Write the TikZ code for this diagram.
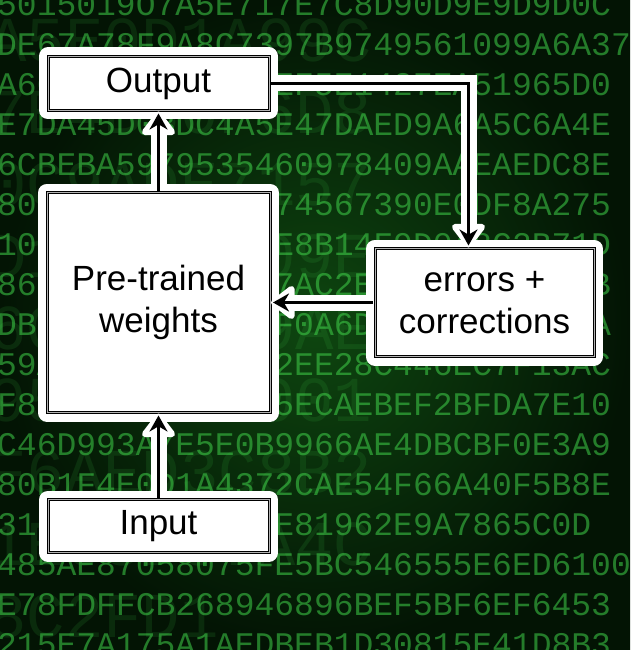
\documentclass[tikz,border=0pt]{standalone}
\usepackage{fontspec}
\newfontfamily\labelfont{Liberation Sans}
\newfontfamily\hexfont{Liberation Mono}
\usetikzlibrary{arrows.meta, positioning, calc}
\definecolor{matrixdark}{RGB}{3,20,4}
\definecolor{matrixmid}{RGB}{14,70,16}
\definecolor{matrixgreen}{RGB}{64,210,74}
\tikzset{
  block/.style={rectangle, draw=black, line width=1.1pt, double=gray!60, double distance=0.8pt,
    fill=white, align=center, outer sep=0pt, font=\labelfont\fontsize{35}{42}\selectfont,
    preaction={draw=white, line width=18pt, line join=round}},
  flow/.style={line width=3pt, shorten <=2pt, shorten >=3pt, -{Stealth[length=16pt, width=18pt]},
    preaction={draw=white, line width=16pt, shorten <=2pt, shorten >=1pt,
      -{Triangle[length=26pt, width=38pt, round]}}},
  hexrow/.style={anchor=west, inner sep=0pt, text=matrixgreen, text opacity=0.55,
    font=\hexfont\fontsize{33}{33}\selectfont},
  bighex/.style={anchor=west, inner sep=0pt, text=matrixgreen, text opacity=0.12,
    font=\hexfont\fontsize{64}{64}\selectfont},
}

\begin{document}
\begin{tikzpicture}[x=1pt, y=-1pt]
    \useasboundingbox (0,0) rectangle (630,650);
    \fill[inner color=matrixmid, outer color=matrixdark] (0,0) rectangle (630,650);
    \begin{scope}
    \clip (0,0) rectangle (630,650);
    % falling code in the background
    \foreach \row [count=\i from 0] in {A5E0D1A99C,7E4B30F6D8,0C9ADE7157,
        D1B5A8F09E,6C5E0019AE,95A785E001,F6AED3C8B2,1E05D97A4C,8C2FD1}
        \node[bighex] (big\i) at (-12, 40+\i*72) {\row};
    \foreach \row [count=\i from 0] in {
        5015019O7A5E717E7C8D90D9E9D9D0C,
        DE67A78F9A8C7397B9749561099A6A37,
        A60C7B21D9ED6AEF5E1427EA51965D0,
        E7DA45D0BDC4A5E47DAED9A6A5C6A4E,
        6CBEBA5979535460978409AAEAEDC8E,
        809E3DA7FADC8974567390E0DF8A275,
        10F57E3A1123D9E8B14F9D0A8C2B71D,
        86C1B4E99D354F7AC2E9058BD1FA63B,
        DBE0A7D9DA5E82F0A6D3BC9174E5DDA,
        59A0E3C7A904552EE28C446EC7F13AC,
        F8D2A6B0FEFE4A5ECAEBEF2BFDA7E10,
        C46D993A7E5E0B9966AE4DBCBF0E3A9,
        80B1F4E0D1A4372CAE54F66A40F5B8E,
        31D8E6A2F0F55AE81962E9A7865C0D,
        485AE87058075FE5BC546555E6ED6100,
        E78FDFFCB268946896BEF5BF6EF6453,
        215E7A175A1AEDBEB1D30815E41D8B3}
        \node[hexrow] (hex\i) at (-3, 5+\i*40) {\row};
    \end{scope}

    % blocks
    \node (weights) [block, minimum width=223pt, minimum height=220pt] at (158.5,302.5) {Pre-trained\\weights};
    \node (output) [block, minimum width=221pt, minimum height=54pt, above=82pt of weights] {Output};
    \node (input) [block, minimum width=221pt, minimum height=53pt, below=87pt of weights] {Input};
    \node (errors) [block, minimum width=219pt, minimum height=108pt, right=105pt of weights] {errors +\\corrections};

    % flow of the signal
    \draw [flow] (input) -- (weights);
    \draw [flow] (weights) -- (output);
    \draw [flow] (output.east) -| ([xshift=-16pt]errors.north);
    \draw [flow] (errors.west) -- (weights.east |- errors.west);
\end{tikzpicture}
\end{document}
